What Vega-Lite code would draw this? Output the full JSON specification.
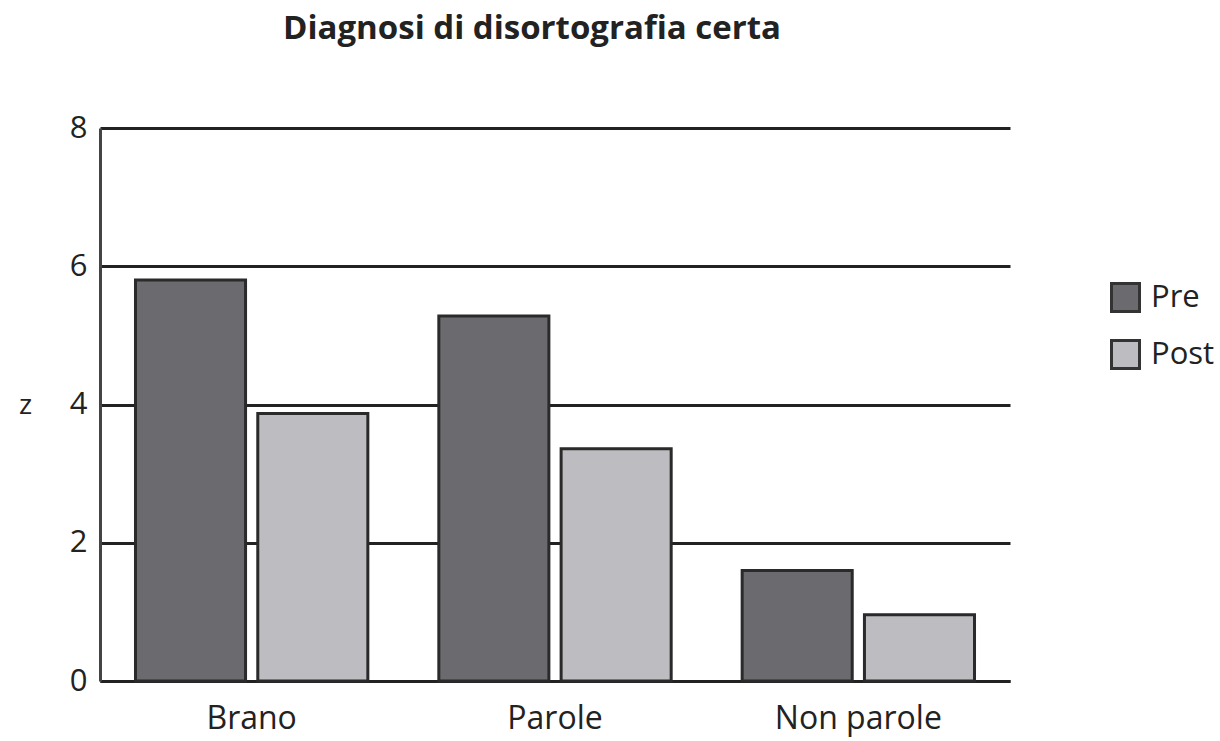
{
  "$schema": "https://vega.github.io/schema/vega-lite/v6.json",
  "width": 910,
  "height": 553,
  "autosize": "none",
  "padding": {"left": 100, "top": 128, "right": 210, "bottom": 60},
  "background": "white",
  "title": {
    "text": "Diagnosi di disortografia certa",
    "font": "Open Sans",
    "fontSize": 33,
    "fontWeight": "bold",
    "color": "#222222",
    "anchor": "middle",
    "dx": -23,
    "offset": 66
  },
  "data": {
    "values": [
      {"categoria": "Brano", "fase": "Pre", "z": 5.8},
      {"categoria": "Brano", "fase": "Post", "z": 3.87},
      {"categoria": "Parole", "fase": "Pre", "z": 5.28},
      {"categoria": "Parole", "fase": "Post", "z": 3.36},
      {"categoria": "Non parole", "fase": "Pre", "z": 1.6},
      {"categoria": "Non parole", "fase": "Post", "z": 0.96}
    ]
  },
  "mark": {"type": "bar", "stroke": "#2a2a2a", "strokeWidth": 3},
  "encoding": {
    "x": {
      "field": "categoria",
      "type": "nominal",
      "sort": ["Brano", "Parole", "Non parole"],
      "scale": {"paddingInner": 0.234, "paddingOuter": 0.117},
      "axis": {
        "title": null,
        "labelAngle": 0,
        "labelFont": "Open Sans",
        "labelFontSize": 32,
        "labelColor": "#222222",
        "labelPadding": 22,
        "ticks": false,
        "domain": true,
        "domainColor": "#222222",
        "domainWidth": 3
      }
    },
    "xOffset": {
      "field": "fase",
      "type": "nominal",
      "sort": ["Pre", "Post"],
      "scale": {"paddingInner": 0.1}
    },
    "y": {
      "field": "z",
      "type": "quantitative",
      "scale": {"domain": [0, 8]},
      "axis": {
        "values": [0, 2, 4, 6, 8],
        "title": "z",
        "titleAngle": 0,
        "titleFont": "Open Sans",
        "titleFontWeight": "normal",
        "titleFontSize": 28,
        "titleColor": "#222222",
        "titleX": -75,
        "titleY": 277,
        "titleAlign": "center",
        "titleBaseline": "middle",
        "labelFont": "Open Sans",
        "labelFontSize": 31,
        "labelColor": "#222222",
        "labelPadding": 13,
        "ticks": false,
        "domain": true,
        "domainColor": "#444444",
        "domainWidth": 3,
        "grid": true,
        "gridColor": "#222222",
        "gridWidth": 3,
        "gridOpacity": 1
      }
    },
    "fill": {
      "field": "fase",
      "type": "nominal",
      "sort": ["Pre", "Post"],
      "scale": {"domain": ["Pre", "Post"], "range": ["#6b6b6f", "#bdbdc1"]},
      "legend": {
        "title": null,
        "orient": "none",
        "legendX": 1010,
        "legendY": 154,
        "symbolType": "square",
        "symbolSize": 784,
        "symbolStrokeColor": "#333333",
        "symbolStrokeWidth": 3,
        "symbolOpacity": 1,
        "labelFont": "Open Sans",
        "labelFontSize": 31,
        "labelColor": "#222222",
        "labelOffset": 10,
        "rowPadding": 16
      }
    }
  },
  "config": {"view": {"stroke": null}}
}
